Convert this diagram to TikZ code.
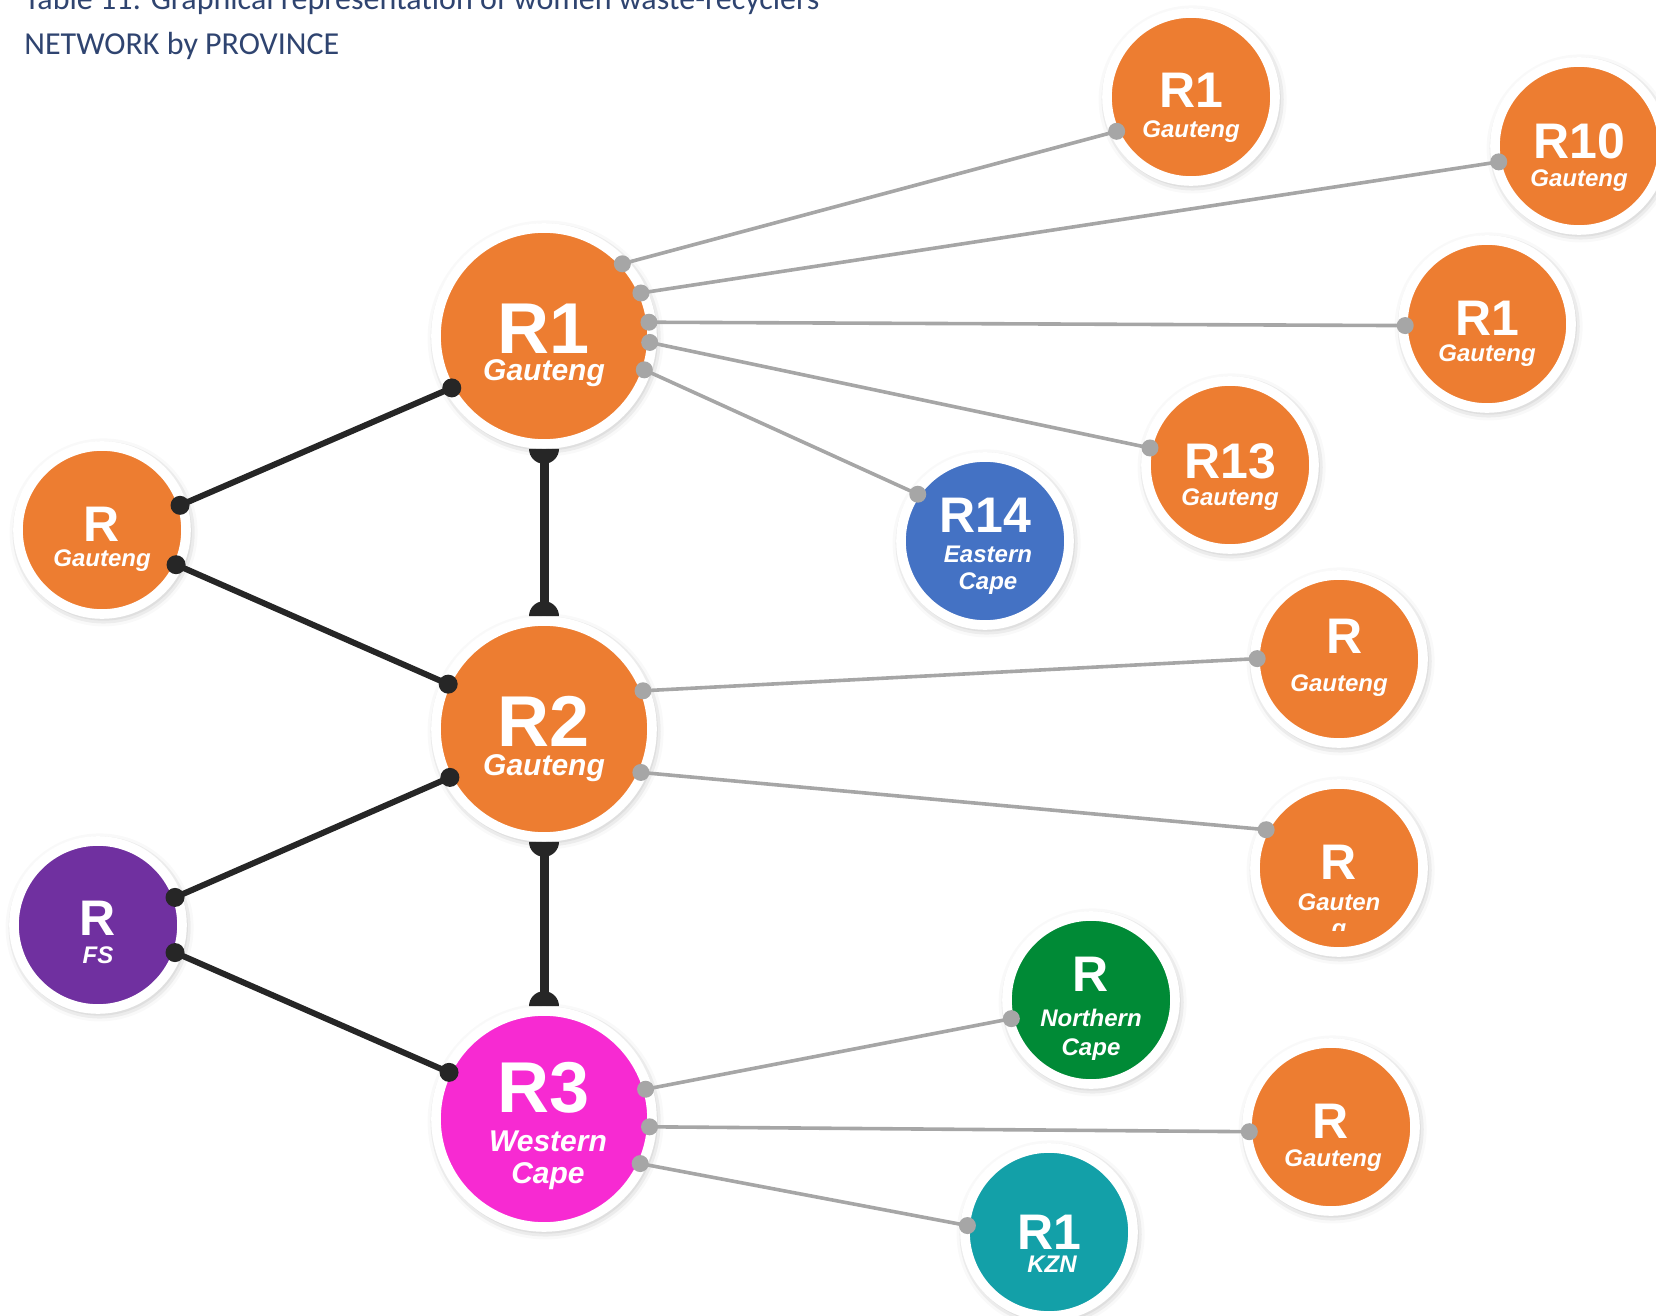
\documentclass[tikz,border=0pt]{standalone}
\usepackage{fontspec}
\setmainfont{Liberation Sans}
\newfontfamily\titlefont{Carlito}
\usetikzlibrary{shadows.blur,calc}

\definecolor{corange}{HTML}{ED7D31}
\definecolor{cblue}{HTML}{4472C4}
\definecolor{cpurple}{HTML}{7030A0}
\definecolor{cgreen}{HTML}{008A36}
\definecolor{cmagenta}{HTML}{F72AD2}
\definecolor{cteal}{HTML}{13A0A8}
\definecolor{cgray}{HTML}{A6A6A6}
\definecolor{cdark}{HTML}{262626}
\definecolor{ctitle}{HTML}{2F4470}

% connector: #1 colour, #2 line width, #3 dot radius (px units), #4 dot offset, #5 from, #6 to
\newcommand\netlink[6]{%
  \draw[draw=#1, line width=#2] (#5) -- (#6);
  \fill[#1] ($(#5)!-#4!(#6)$) circle[radius=#3];
  \fill[#1] ($(#6)!-#4!(#5)$) circle[radius=#3];}
\newcommand\glink[2]{\netlink{cgray}{1.8pt}{8.5}{3.5pt}{#1}{#2}}
\newcommand\dlink[2]{\netlink{cdark}{3pt}{9.5}{3.5pt}{#1}{#2}}
% vertical link with half-disc caps: #1 upper node, #2 lower node
\newcommand\vlink[2]{%
  \draw[cdark, line width=4.5pt] (#1.south) -- (#2.north);
  \fill[cdark] (#1.south) ++(-15,0) arc[start angle=180, end angle=0, radius=15] -- cycle;
  \fill[cdark] (#2.north) ++(-15,0) arc[start angle=180, end angle=360, radius=15] -- cycle;}

\begin{document}
\begin{tikzpicture}[x=0.5pt,y=-0.5pt,
  circ/.style={circle, draw=white, line width=4.8pt, inner sep=0pt,
    blur shadow={shadow xshift=0.8pt, shadow yshift=-1.2pt, shadow blur radius=5pt, shadow opacity=40}},
  bign/.style={circ, minimum size=108pt},
  smalln/.style={circ, minimum size=84pt},
  bigid/.style={text=white, font=\fontsize{36}{36}\selectfont\bfseries, anchor=base, inner sep=0pt},
  bigprov/.style={text=white, font=\fontsize{15}{15}\selectfont\bfseries\itshape, anchor=base, inner sep=0pt},
  smallid/.style={text=white, font=\fontsize{25}{25}\selectfont\bfseries, anchor=base, inner sep=0pt},
  smallprov/.style={text=white, font=\fontsize{12}{12}\selectfont\bfseries\itshape, anchor=base, inner sep=0pt},
  titletext/.style={text=ctitle, font=\titlefont\fontsize{16}{16}\selectfont, anchor=base west, inner sep=0pt}
]
\useasboundingbox (0,0) rectangle (1656,1316);

% title
\node[titletext] (t1) at (24,10) {Table 11: Graphical representation of women waste-recyclers};
\node[titletext] (t2) at (24,55) {NETWORK by PROVINCE};

% circles
\node[bign, fill=corange] (r1) at (544,336) {};
\node[bign, fill=corange] (r2) at (544,729) {};
\node[bign, fill=cmagenta] (r3) at (544,1119) {};
\node[smalln, fill=corange] (na) at (1191,97) {};
\node[smalln, fill=corange] (nb) at (1579,146) {};
\node[smalln, fill=corange] (nc) at (1487,324) {};
\node[smalln, fill=corange] (nd) at (1230,465) {};
\node[smalln, fill=cblue] (ne) at (985,541) {};
\node[smalln, fill=corange] (nf) at (1339,659) {};
\node[smalln, fill=corange] (ng) at (1339,868) {};
\node[smalln, fill=cgreen] (nh) at (1091,1000) {};
\node[smalln, fill=corange] (ni) at (1331,1127) {};
\node[smalln, fill=cteal] (nj) at (1049,1232) {};
\node[smalln, fill=corange] (nk) at (102,530) {};
\node[smalln, fill=cpurple] (nl) at (98,925) {};

% connectors (drawn over the shadows, starting at the white rings)
\glink{r1.41.7}{na.204.8}
\glink{r1.23.3}{nb.191.3}
\glink{r1.7.8}{nc.181.3}
\glink{r1.-4}{nd.168}
\glink{r1.-19}{ne.146.5}
\glink{r2.20.4}{nf.180.6}
\glink{r2.-23}{ng.154}
\glink{r3.16.7}{nh.193.7}
\glink{r3.-4.6}{ni.183}
\glink{r3.-24.7}{nj.175}
\dlink{r1.209}{nk.18}
\dlink{r2.155}{nk.-25}
\dlink{r2.207}{nl.20}
\dlink{r3.154.4}{nl.-20}
\vlink{r1}{r2}
\vlink{r2}{r3}

% texts
\node[bigid] (r1a) at ($(r1)+(0,18)$) {R1};
\node[bigprov] (r1b) at ($(r1)+(0,45)$) {Gauteng};
\node[bigid] (r2a) at ($(r2)+(0,17)$) {R2};
\node[bigprov] (r2b) at ($(r2)+(0,46)$) {Gauteng};
\node[bigid] (r3a) at ($(r3)+(0,-7)$) {R3};
\node[bigprov] (r3b) at ($(r3)+(4,32)$) {Western};
\node[bigprov] (r3c) at ($(r3)+(4,64)$) {Cape};

\node[smallid] (naa) at ($(na)+(0,11)$) {R1};
\node[smallprov] (nab) at ($(na)+(0,41)$) {Gauteng};
\node[smallid] (nba) at ($(nb)+(0,13)$) {R10};
\node[smallprov] (nbb) at ($(nb)+(0,41)$) {Gauteng};
\node[smallid] (nca) at ($(nc)+(0,12)$) {R1};
\node[smallprov] (ncb) at ($(nc)+(0,38)$) {Gauteng};
\node[smallid] (nda) at ($(nd)+(0,14)$) {R13};
\node[smallprov] (ndb) at ($(nd)+(0,40)$) {Gauteng};
\node[smallid] (nea) at ($(ne)+(0,-9)$) {R14};
\node[smallprov] (neb) at ($(ne)+(3,21)$) {Eastern};
\node[smallprov] (nec) at ($(ne)+(3,48)$) {Cape};
\node[smallid] (nfa) at ($(nf)+(6,-6)$) {R};
\node[smallprov] (nfb) at ($(nf)+(0,32)$) {Gauteng};
\node[smallid] (nga) at ($(ng)+(0,11)$) {R};
\node[smallprov] (ngb) at ($(ng)+(0,42)$) {Gauten};
\begin{scope}
  \clip (1300,900) rectangle (1380,930);
  \node[smallprov] (ngc) at ($(ng)+(0,68)$) {g};
\end{scope}
\node[smallid] (nha) at ($(nh)+(0,-9)$) {R};
\node[smallprov] (nhb) at ($(nh)+(0,26)$) {Northern};
\node[smallprov] (nhc) at ($(nh)+(0,55)$) {Cape};
\node[smallid] (nia) at ($(ni)+(0,11)$) {R};
\node[smallprov] (nib) at ($(ni)+(2,39)$) {Gauteng};
\node[smallid] (nja) at ($(nj)+(0,17)$) {R1};
\node[smallprov] (njb) at ($(nj)+(3,40)$) {KZN};
\node[smallid] (nka) at ($(nk)+(0,11)$) {R};
\node[smallprov] (nkb) at ($(nk)+(0,37)$) {Gauteng};
\node[smallid] (nla) at ($(nl)+(0,10)$) {R};
\node[smallprov] (nlb) at ($(nl)+(0,38)$) {FS};
\end{tikzpicture}
\end{document}
